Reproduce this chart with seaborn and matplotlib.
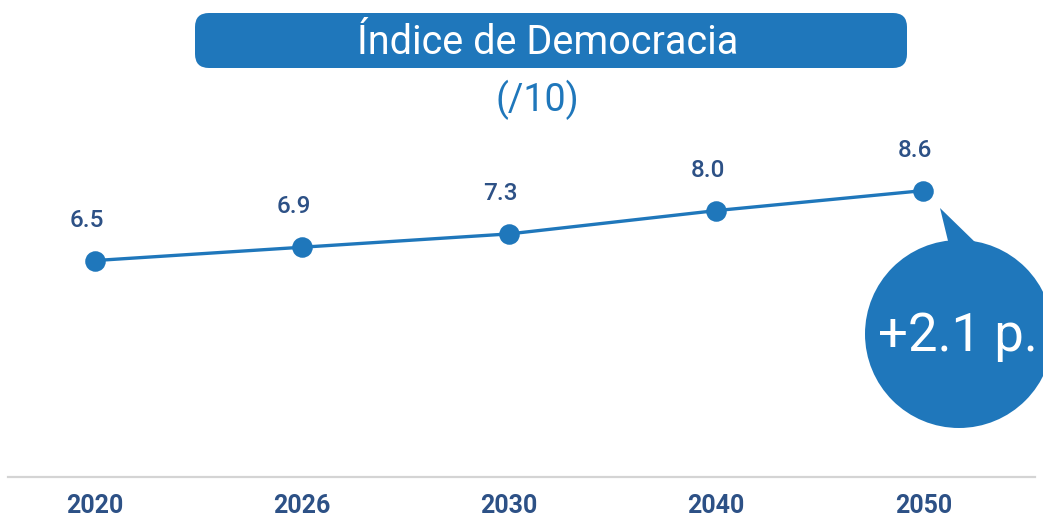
import pandas as pd
import matplotlib.pyplot as plt
import seaborn as sns
from matplotlib.patches import FancyBboxPatch, Circle, Polygon

# --- data ---
years = ["2020", "2026", "2030", "2040", "2050"]
scores = [6.5, 6.9, 7.3, 8.0, 8.6]
title = "Índice de Democracia"
subtitle = "(/10)"
badge = "+2.1 p."

blue = "#1f77bb"
navy = "#2d5186"

sns.set_theme(style="white")
plt.rcParams["font.family"] = ["Roboto", "DejaVu Sans"]

fig = plt.figure(figsize=(10.43, 5.19), dpi=100)
ax = fig.add_axes([8 / 1043, 42 / 519, 1027 / 1043, 333 / 519])

df = pd.DataFrame({"year": years, "score": scores})
sns.pointplot(data=df, x="year", y="score", color=blue, markers="o",
              markersize=13, linewidth=2.4, ax=ax)

ax.set_xlim(-0.42, 4.54)
ax.set_ylim(0, 10)
ax.set_xlabel("")
ax.set_ylabel("")
ax.set_yticks([])
for side in ["top", "left", "right"]:
    ax.spines[side].set_visible(False)
ax.spines["bottom"].set_color("#d4d4d4")
ax.spines["bottom"].set_linewidth(1.6)
ax.tick_params(axis="x", length=0, pad=12)
for lab in ax.get_xticklabels():
    lab.set_fontsize(18)
    lab.set_fontweight("bold")
    lab.set_color(navy)

# value labels above the points
for i, v in enumerate(scores):
    ax.annotate(f"{v:.1f}", (i, v), xytext=(-6, 29), textcoords="offset points",
                ha="center", va="center", fontsize=17.5, fontweight="medium", color=navy)

# --- overlay in pixel coords for the title box and the bubble ---
ov = fig.add_axes([0, 0, 1, 1], zorder=5)
ov.set_xlim(0, 1043)
ov.set_ylim(519, 0)
ov.axis("off")

ov.add_patch(FancyBboxPatch((195, 13), 712, 55, boxstyle="round,pad=0,rounding_size=14",
                            fc=blue, ec="none"))
ov.text(548, 42, title, color="white", fontsize=28.5, ha="center", va="center")
ov.text(537, 100, subtitle, color=blue, fontsize=27, ha="center", va="center")

ov.add_patch(Polygon([(940, 208), (949, 245), (978, 245)], closed=True, fc=blue, ec="none"))
ov.add_patch(Circle((959, 334), 94, fc=blue, ec="none"))
ov.text(958, 336, badge, color="white", fontsize=38, ha="center", va="center")

fig.savefig("out.png", dpi=100)
